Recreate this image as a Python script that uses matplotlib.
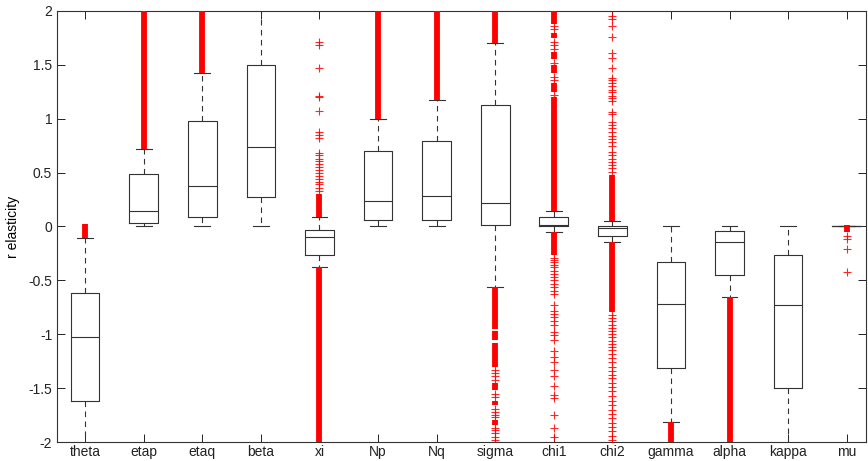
import matplotlib
matplotlib.use("Agg")
import matplotlib.pyplot as plt

plt.rcParams['font.family'] = ['Liberation Sans', 'DejaVu Sans']
plt.rcParams['axes.unicode_minus'] = False

names = ['theta', 'etap', 'etaq', 'beta', 'xi', 'Np', 'Nq', 'sigma',
         'chi1', 'chi2', 'gamma', 'alpha', 'kappa', 'mu']

# box statistics (whisker ends beyond +-2 lie off the axes)
q1 = [-1.62, 0.03, 0.09, 0.27, -0.26, 0.06, 0.06, 0.01, 0.00, -0.09, -1.31, -0.45, -1.50, 0.0]
med = [-1.03, 0.14, 0.38, 0.74, -0.10, 0.24, 0.28, 0.22, 0.015, -0.01, -0.72, -0.14, -0.73, 0.0]
q3 = [-0.62, 0.49, 0.98, 1.50, -0.035, 0.70, 0.79, 1.13, 0.09, 0.005, -0.33, -0.04, -0.26, 0.0]
wlo = [-2.3, 0.0, 0.0, 0.0, -0.38, 0.0, 0.0, -0.56, -0.05, -0.14, -1.81, -0.65, -2.3, 0.0]
whi = [-0.11, 0.72, 1.42, 2.4, 0.085, 1.0, 1.17, 1.70, 0.14, 0.05, 0.0, 0.0, 0.0, 0.0]

# ranges where the outlier crosses are so packed they form a solid bar
dense = {
    'theta': [(-0.11, 0.02)],
    'etap': [(0.72, 2.05)],
    'etaq': [(1.42, 2.05)],
    'xi': [(0.085, 0.30), (-0.38, -2.05)],
    'Np': [(1.0, 2.05)],
    'Nq': [(1.17, 2.05)],
    'sigma': [(1.70, 2.05), (-0.56, -0.95), (-0.97, -1.05), (-1.08, -1.30),
              (-1.45, -1.52), (-1.62, -1.66), (-1.80, -1.84)],
    'chi1': [(0.14, 1.20), (1.25, 1.33), (1.42, 1.50), (1.55, 1.62), (1.75, 1.80),
             (1.88, 2.05), (-0.05, -0.26)],
    'chi2': [(0.05, 0.48), (-0.14, -0.79)],
    'gamma': [(-1.81, -2.05)],
    'alpha': [(-0.65, -2.05)],
    'mu': [(0.01, -0.05)],
}

# single outlier crosses
sparse = {
    'xi': [1.71, 1.68, 1.47, 1.21, 1.20, 1.07, 0.88, 0.85, 0.82, 0.68, 0.66, 0.63,
           0.61, 0.58, 0.55, 0.52, 0.50, 0.47, 0.44, 0.41, 0.39, 0.36, 0.33],
    'sigma': [-1.33, -1.36, -1.39, -1.42, -1.55, -1.58, -1.69, -1.72, -1.75, -1.77,
              -1.87, -1.89, -1.92, -1.95, -1.98],
    'chi1': [1.22, 1.36, 1.39, 1.52, 1.65, 1.68, 1.71, 1.83, 1.86,
             -0.29, -0.31, -0.33, -0.36, -0.38, -0.41, -0.44, -0.47, -0.50, -0.53,
             -0.56, -0.60, -0.63, -0.73, -0.78, -0.81, -0.84, -0.88, -0.91, -0.98,
             -1.01, -1.05, -1.16, -1.21, -1.26, -1.33, -1.39, -1.48, -1.56, -1.59,
             -1.75, -1.87, -1.95],
    'chi2': [1.95, 1.93, 1.86, 1.76, 1.61, 1.56, 1.47, 1.38, 1.36, 1.33, 1.30, 1.27,
             1.25, 1.21, 1.19, 1.16, 1.06, 1.04, 0.97, 0.94, 0.91, 0.88, 0.84, 0.81,
             0.78, 0.75, 0.69, 0.66, 0.63, 0.60, 0.57, 0.54, 0.51,
             -0.82, -0.85, -0.88, -0.91, -0.94, -0.97, -1.00, -1.03, -1.06, -1.09,
             -1.12, -1.15, -1.18, -1.22, -1.26, -1.30, -1.34, -1.38, -1.41, -1.45,
             -1.49, -1.53, -1.57, -1.62, -1.66, -1.70, -1.74, -1.78, -1.82, -1.86,
             -1.90, -1.94, -1.98],
    'mu': [-0.085, -0.115, -0.21, -0.42],
}

stats = []
for i, n in enumerate(names):
    stats.append(dict(label=n, q1=q1[i], med=med[i], q3=q3[i],
                      whislo=wlo[i], whishi=whi[i], fliers=[]))

fig = plt.figure(figsize=(8.68, 4.61), dpi=100)
ax = fig.add_axes([0.0657, 0.0412, 0.932, 0.935])

pos = list(range(1, len(names) + 1))
ax.bxp(stats, positions=pos, widths=0.49, showfliers=False,
       boxprops=dict(color='#333333', linewidth=0.8),
       medianprops=dict(color='#333333', linewidth=0.8),
       whiskerprops=dict(color='#333333', linewidth=0.8, linestyle=(0, (5, 4))),
       capprops=dict(color='#333333', linewidth=0.8), capwidths=0.27)

for i, n in enumerate(names):
    for lo, hi in dense.get(n, []):
        ax.vlines(pos[i], lo, hi, colors='red', linewidth=4.2, zorder=3)
    pts = sparse.get(n, [])
    if pts:
        ax.plot([pos[i]] * len(pts), pts, '+', color='red', markersize=5.5,
                markeredgewidth=0.8, zorder=3, alpha=0.85)

ax.set_xlim(0.52, 14.33)
ax.set_ylim(-2, 2)
ax.set_yticks([-2, -1.5, -1, -0.5, 0, 0.5, 1, 1.5, 2])
ax.set_yticklabels(['-2', '-1.5', '-1', '-0.5', '0', '0.5', '1', '1.5', '2'])
ax.set_xticks(pos)
ax.set_xticklabels(names)
ax.tick_params(direction='in', top=True, right=True, length=6, width=0.7,
               labelsize=10, colors='#222222')
ax.tick_params(axis='x', pad=2)
for s in ax.spines.values():
    s.set_linewidth(0.8)
    s.set_color('#333333')
ax.set_ylabel('r elasticity', fontsize=10, labelpad=6)

fig.savefig('out.png', dpi=100)
